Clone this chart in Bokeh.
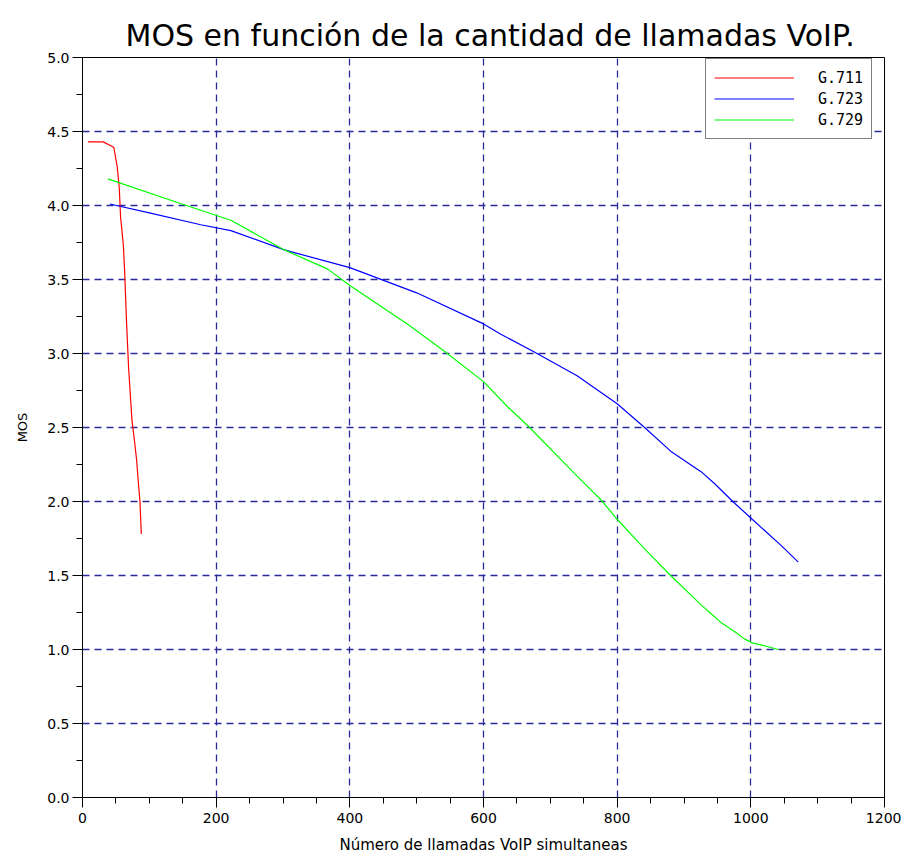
from bokeh.plotting import figure
from bokeh.models import Range1d, FixedTicker, NumeralTickFormatter, Legend, LegendItem, Title
from bokeh.embed import file_html
from bokeh.resources import INLINE

# Data
g711_x = [8, 31, 44, 47, 52, 55, 57, 61, 63, 66, 69, 74, 78, 81, 83, 86, 88]
g711_y = [4.43, 4.43, 4.40, 4.39, 4.26, 4.12, 3.92, 3.74, 3.56, 3.20, 2.90, 2.55, 2.40, 2.28, 2.16, 2.00, 1.78]

g723_x = [41, 100, 177, 222, 302, 400, 500, 600, 626, 676, 740, 800, 841, 880, 926, 946, 973, 1002, 1046, 1071]
g723_y = [4.01, 3.95, 3.87, 3.83, 3.70, 3.58, 3.41, 3.20, 3.13, 3.01, 2.85, 2.66, 2.50, 2.34, 2.20, 2.12, 2.00, 1.88, 1.70, 1.59]

g729_x = [38, 142, 222, 302, 367, 400, 486, 540, 600, 636, 669, 736, 776, 800, 841, 880, 926, 941, 956, 976, 991, 1002, 1016, 1041]
g729_y = [4.18, 4.02, 3.90, 3.70, 3.57, 3.46, 3.20, 3.02, 2.81, 2.64, 2.50, 2.19, 2.01, 1.88, 1.68, 1.50, 1.30, 1.24, 1.18, 1.12, 1.07, 1.045, 1.03, 1.00]

x_ticks = [0, 200, 400, 600, 800, 1000, 1200]
x_minor = [v for v in range(0, 1201, 50)]
y_ticks = [0.0, 0.5, 1.0, 1.5, 2.0, 2.5, 3.0, 3.5, 4.0, 4.5, 5.0]
y_minor = [i * 0.25 for i in range(0, 21)]

title_text = "MOS en función de la cantidad de llamadas VoIP."
x_label = "Número de llamadas VoIP simultaneas"
y_label = "MOS"

p = figure(width=901, height=856, output_backend="svg", toolbar_location=None,
           x_range=Range1d(0, 1200), y_range=Range1d(0, 5),
           min_border_left=82, min_border_right=17, min_border_top=57, min_border_bottom=54)
p.title = None
t = Title(text=title_text, align="left", text_font="DejaVu Sans", text_font_size="30px",
          text_font_style="normal", text_color="black", offset=43, standoff=10,
          text_line_height=1.0)
p.add_layout(t, "above")

p.background_fill_color = "white"
p.border_fill_color = "white"
p.outline_line_color = "black"
p.outline_line_width = 1

for ax in (p.xaxis[0], p.yaxis[0]):
    ax.axis_line_color = "black"
    ax.major_tick_line_color = "black"
    ax.minor_tick_line_color = "black"
    ax.major_tick_out = 10
    ax.major_tick_in = 0
    ax.minor_tick_out = 6
    ax.minor_tick_in = 0
    ax.major_label_text_font = "DejaVu Sans"
    ax.major_label_text_font_size = "14px"
    ax.major_label_text_color = "black"
    ax.axis_label_text_font = "DejaVu Sans"
    ax.axis_label_text_font_style = "normal"
    ax.axis_label_text_color = "black"

p.xaxis[0].ticker = FixedTicker(ticks=x_ticks, minor_ticks=x_minor)
p.yaxis[0].ticker = FixedTicker(ticks=y_ticks, minor_ticks=y_minor)
p.yaxis[0].formatter = NumeralTickFormatter(format="0.0")
p.xaxis[0].axis_label = x_label
p.yaxis[0].axis_label = y_label
p.xaxis[0].axis_label_text_font_size = "15px"
p.yaxis[0].axis_label_text_font_size = "13px"
p.xaxis[0].major_label_standoff = 5
p.yaxis[0].major_label_standoff = 3
p.xaxis[0].axis_label_standoff = 10
p.yaxis[0].axis_label_standoff = 14

for g in p.grid:
    g.grid_line_color = "#2a2a9a"
    g.grid_line_width = 1.3
    g.grid_line_dash = "7 5"

r1 = p.line(g711_x, g711_y, line_color="#ff0000", line_width=1.2)
r2 = p.line(g723_x, g723_y, line_color="#0000ff", line_width=1.2)
r3 = p.line(g729_x, g729_y, line_color="#00ff00", line_width=1.2)

legend = Legend(items=[LegendItem(label="G.711", renderers=[r1]),
                       LegendItem(label="G.723", renderers=[r2]),
                       LegendItem(label="G.729", renderers=[r3])],
                location=(623, 658))
legend.border_line_color = "black"
legend.border_line_width = 1
legend.background_fill_color = "white"
legend.background_fill_alpha = 1
legend.label_text_font = "DejaVu Sans Mono"
legend.label_text_font_size = "15px"
legend.label_text_color = "black"
legend.glyph_width = 80
legend.glyph_height = 21
legend.label_height = 21
legend.label_standoff = 24
legend.padding = 8
legend.spacing = 0
legend.margin = 0
p.add_layout(legend, "center")

open("out.html", "w").write(file_html(p, INLINE))
